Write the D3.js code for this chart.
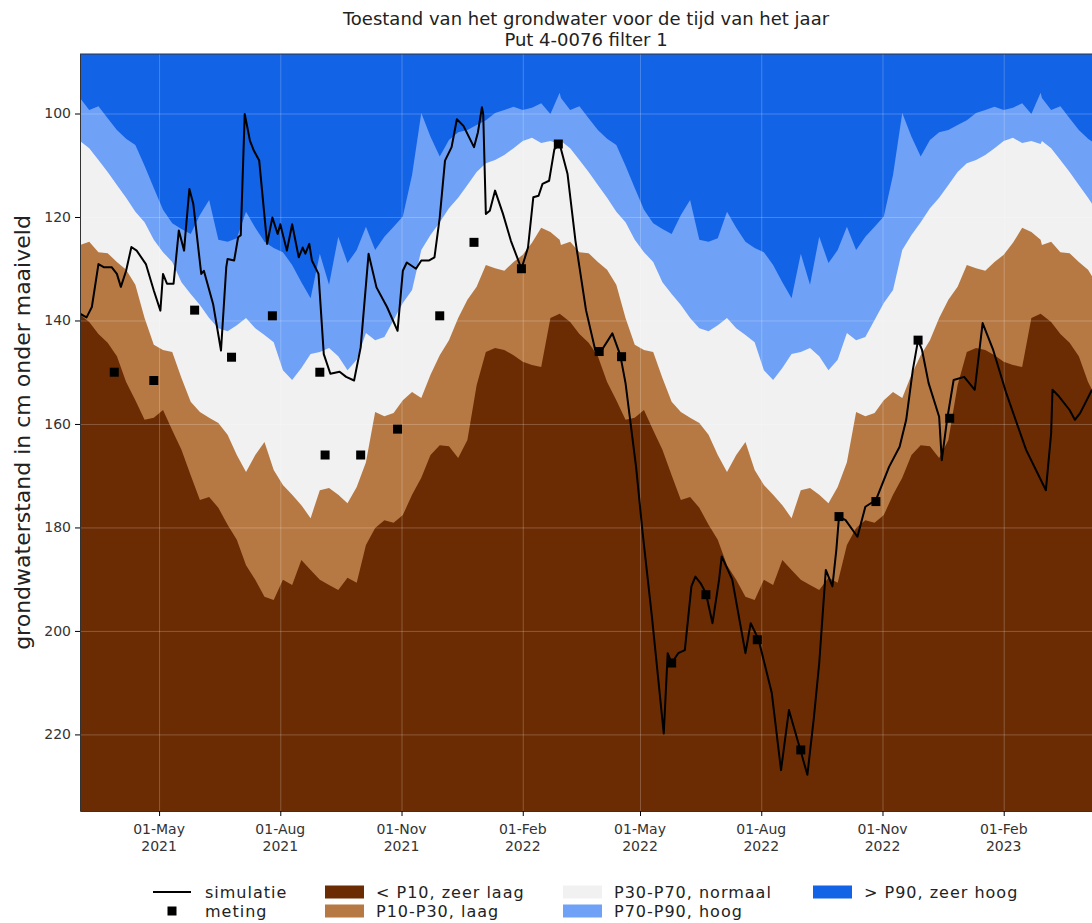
<html>
<head>
<meta charset="utf-8">
<script src="https://d3js.org/d3.v7.min.js"></script>
<style>
    body { margin: 0; background: #fff; }
    text { font-family: "DejaVu Sans", sans-serif; fill: #222; }
    .grid line { stroke: #fff; stroke-opacity: 0.22; }
    .grid .domain { stroke: none; }
    .legenda text { font-size: 16px; letter-spacing: 1px; }
</style>
</head>
<body>
<div id="chart"></div>
<script>
// percentielen per tijd van het jaar: dagen na 2 maart, elke 7 dagen
const dagen = [0,7,14,21,28,35,42,49,56,63,70,77,84,91,98,105,112,119,126,133,140,147,154,161,168,175,182,189,196,203,210,217,224,231,238,245,252,259,266,273,280,287,294,301,308,315,322,329,336,343,350,357,364];
const p90 = [97.0,99.3,98.6,100.9,103.2,104.9,106.1,110.1,114.4,118.6,121.2,122.3,123.3,119.6,116.7,124.4,124.8,124.1,119.0,122.1,124.8,126.0,126.8,129.3,132.6,135.7,127.1,133.1,123.8,128.9,126.4,121.9,126.4,123.8,121.9,119.9,111.9,99.9,104.5,108.3,105.1,103.6,103.2,102.2,101.3,99.9,99.3,98.7,99.3,98.9,98.0,100.1,96.0];
const p70 = [105.3,106.7,109.0,111.3,113.8,116.3,119.0,121.0,124.4,126.8,128.7,132.6,134.9,137.0,139.5,141.5,142.1,140.9,139.5,141.5,142.8,144.2,149.6,151.5,149.2,146.5,146.1,145.3,146.9,149.6,147.6,142.4,143.8,143.2,139.9,136.6,134.1,126.4,123.5,121.0,118.3,116.3,113.8,111.3,109.6,109.0,108.0,106.7,105.3,104.7,105.7,105.3,105.9];
const p30 = [125.4,124.8,126.8,127.0,128.7,130.2,133.1,139.5,144.7,145.7,146.1,151.1,155.7,157.7,158.8,159.8,162.1,166.0,169.3,166.0,163.5,168.9,171.8,173.7,175.7,178.2,172.8,172.4,173.7,175.3,172.2,167.4,157.7,158.5,157.9,155.4,153.8,155.0,150.5,146.7,143.8,139.5,136.0,133.5,129.3,129.9,130.4,128.7,127.3,125.0,122.1,122.9,124.4];
const p10 = [138.9,140.3,142.6,144.3,146.9,151.9,155.4,159.2,158.8,157.3,161.2,165.0,169.9,174.7,174.1,176.2,179.5,182.4,187.3,190.1,193.4,194.0,190.1,191.1,186.3,188.2,190.1,191.1,192.1,189.7,190.7,183.4,180.1,178.6,179.1,177.6,173.7,170.4,166.0,164.1,164.3,166.6,163.1,152.5,146.1,145.3,145.7,146.7,148.0,148.6,149.0,139.5,138.7];

// simulatie
const simDatum = ['2021-03-02','2021-03-07','2021-03-11','2021-03-16','2021-03-20','2021-03-26','2021-03-30','2021-04-02','2021-04-06','2021-04-10','2021-04-14','2021-04-21','2021-04-27','2021-05-02','2021-05-04','2021-05-07','2021-05-12','2021-05-16','2021-05-20','2021-05-21','2021-05-24','2021-05-27','2021-06-02','2021-06-04','2021-06-11','2021-06-17','2021-06-21','2021-06-22','2021-06-27','2021-06-30','2021-07-02','2021-07-05','2021-07-09','2021-07-12','2021-07-16','2021-07-22','2021-07-26','2021-07-30','2021-08-01','2021-08-06','2021-08-10','2021-08-15','2021-08-18','2021-08-20','2021-08-23','2021-08-25','2021-08-30','2021-09-03','2021-09-08','2021-09-15','2021-09-20','2021-09-26','2021-10-01','2021-10-07','2021-10-13','2021-10-21','2021-10-29','2021-11-02','2021-11-05','2021-11-12','2021-11-16','2021-11-22','2021-11-26','2021-11-30','2021-12-04','2021-12-09','2021-12-13','2021-12-18','2021-12-26','2021-12-29','2022-01-01','2022-01-02','2022-01-04','2022-01-07','2022-01-11','2022-01-17','2022-01-23','2022-01-31','2022-02-05','2022-02-09','2022-02-13','2022-02-16','2022-02-21','2022-02-25','2022-03-01','2022-03-07','2022-03-13','2022-03-21','2022-03-28','2022-04-02','2022-04-10','2022-04-16','2022-04-20','2022-04-28','2022-05-03','2022-05-10','2022-05-19','2022-05-22','2022-05-25','2022-05-30','2022-06-04','2022-06-09','2022-06-12','2022-06-16','2022-06-20','2022-06-25','2022-06-30','2022-07-02','2022-07-10','2022-07-20','2022-07-24','2022-07-30','2022-08-09','2022-08-16','2022-08-22','2022-08-30','2022-09-05','2022-09-10','2022-09-14','2022-09-19','2022-09-24','2022-09-27','2022-09-29','2022-10-04','2022-10-13','2022-10-19','2022-10-27','2022-11-06','2022-11-14','2022-11-19','2022-11-24','2022-11-28','2022-12-01','2022-12-06','2022-12-14','2022-12-16','2022-12-20','2022-12-25','2023-01-02','2023-01-10','2023-01-16','2023-01-24','2023-02-03','2023-02-18','2023-03-05','2023-03-09','2023-03-10','2023-03-15','2023-03-23','2023-03-27','2023-03-31','2023-04-09'];
const simWaarde = [138.7,139.4,137.4,129.1,129.7,129.7,131.0,133.5,130.4,125.8,126.5,129.1,134.2,138.1,131.0,132.9,132.9,122.6,126.5,123.3,114.6,117.5,131.0,130.4,136.8,145.8,129.7,128.1,128.4,123.9,123.5,100.1,105.3,107.2,109.1,125.2,120.1,123.3,121.4,126.5,121.4,127.8,125.9,127.1,125.2,128.4,131.0,146.5,150.3,149.9,150.9,151.6,145.2,127.1,133.6,137.4,142.0,130.4,128.8,130.0,128.4,128.4,127.8,120.1,109.1,106.5,101.1,102.4,106.5,103.6,98.8,100.1,119.4,118.8,114.9,119.4,124.6,130.0,125.9,116.2,115.9,113.6,113.0,106.9,105.9,111.7,124.6,138.0,145.7,145.7,142.5,146.7,152.1,168.3,181.1,197.2,219.8,204.3,206.2,204.3,203.7,191.4,189.5,190.8,192.7,198.5,190.1,185.6,190.1,204.3,198.5,201.7,212.0,226.9,215.3,222.4,227.8,216.6,206.2,188.2,191.4,184.3,177.9,178.6,181.8,176.0,174.7,168.3,164.4,159.2,149.6,143.8,145.7,152.1,158.6,167.0,159.2,151.5,150.9,153.4,140.5,145.7,154.1,165.0,172.8,161.8,153.4,154.7,157.3,159.2,157.9,153.4];

// metingen
const metDatum = ['2021-03-28','2021-04-27','2021-05-28','2021-06-25','2021-07-26','2021-08-31','2021-09-04','2021-10-01','2021-10-29','2021-11-30','2021-12-26','2022-01-31','2022-02-28','2022-03-31','2022-04-17','2022-05-25','2022-06-20','2022-07-29','2022-08-31','2022-09-29','2022-10-27','2022-11-28','2022-12-22'];
const metWaarde = [150.0,151.6,138.0,147.1,139.1,150.0,166.0,166.0,161.0,139.1,124.9,130.0,105.9,146.0,147.0,206.2,193.0,201.7,223.0,177.9,175.0,143.8,158.9];

const yTicks = [100, 120, 140, 160, 180, 200, 220];
const xTicks = ['2021-05-01','2021-08-01','2021-11-01','2022-02-01','2022-05-01','2022-08-01','2022-11-01','2023-02-01'];
const maanden = {1: 'Jan', 2: 'Feb', 3: 'Mar', 4: 'Apr', 5: 'May', 6: 'Jun', 7: 'Jul', 8: 'Aug', 9: 'Sep', 10: 'Oct', 11: 'Nov', 12: 'Dec'};

const klassen = ['< P10, zeer laag', 'P10-P30, laag', 'P30-P70, normaal', 'P70-P90, hoog', '> P90, zeer hoog'];
const kleuren = ['#6b2c03', '#b77943', '#f1f1f1', '#6fa1f6', '#1263e6'];

const parse = d3.timeParse('%Y-%m-%d');
const start = parse('2021-03-02');

const svg = d3.select('#chart').append('svg')
    .attr('width', 1092)
    .attr('height', 923);

const margins = { top: 54, right: 0, bottom: 112, left: 80 };
const width = 1092 - margins.left - margins.right;
const height = 923 - margins.top - margins.bottom;

const xScale = d3.scaleTime()
    .domain([start, parse('2023-04-09')])
    .range([0, width]);
const yScale = d3.scaleLinear()
    .domain([88.5, 234.8])
    .range([0, height]);

svg.append('defs').append('clipPath').attr('id', 'plotclip')
    .append('rect').attr('width', width).attr('height', height);

const chartArea = svg.append('g')
    .attr('transform', `translate(${margins.left},${margins.top})`);
const plot = chartArea.append('g').attr('clip-path', 'url(#plotclip)');

// klimaat herhalen over de jaren
function klimaat(values) {
    const pts = [];
    for (let jaar = 0; jaar < 3; jaar++) {
        dagen.forEach((d, i) => {
            pts.push({ date: d3.timeDay.offset(start, jaar * 365 + d), v: values[i] });
        });
    }
    return pts;
}

plot.append('rect')
    .attr('width', width)
    .attr('height', height)
    .attr('fill', kleuren[4]);

const area = d3.area()
    .x(d => xScale(d.date))
    .y0(height)
    .y1(d => yScale(d.v));

[p90, p70, p30, p10].forEach((reeks, i) => {
    plot.append('path')
        .datum(klimaat(reeks))
        .attr('d', area)
        .attr('fill', kleuren[3 - i]);
});

// gridlines
plot.append('g')
    .attr('class', 'grid')
    .call(d3.axisLeft(yScale).tickValues(yTicks).tickSize(-width).tickFormat(''));
plot.append('g')
    .attr('class', 'grid')
    .attr('transform', `translate(0,${height})`)
    .call(d3.axisBottom(xScale).tickValues(xTicks.map(parse)).tickSize(-height).tickFormat(''));

const sim = simDatum.map((d, i) => ({ date: parse(d), v: simWaarde[i] }));
plot.append('path')
    .datum(sim)
    .attr('d', d3.line().x(d => xScale(d.date)).y(d => yScale(d.v)))
    .attr('fill', 'none')
    .attr('stroke', '#000')
    .attr('stroke-width', 2)
    .attr('stroke-linejoin', 'round');

metDatum.forEach((d, i) => {
    plot.append('rect')
        .attr('x', xScale(parse(d)) - 4.5)
        .attr('y', yScale(metWaarde[i]) - 4.5)
        .attr('width', 9)
        .attr('height', 9)
        .attr('fill', '#000');
});

// assen
const leftAxis = chartArea.append('g')
    .call(d3.axisLeft(yScale).tickValues(yTicks).tickSize(5).tickSizeOuter(0).tickPadding(4));
leftAxis.selectAll('text').style('font-size', '14px').style('fill', '#333');
leftAxis.select('.domain').attr('stroke', '#333');

const bottomAxis = chartArea.append('g')
    .attr('transform', `translate(0,${height})`)
    .call(d3.axisBottom(xScale).tickValues(xTicks.map(parse)).tickSize(5).tickSizeOuter(0).tickFormat(''));
bottomAxis.select('.domain').attr('stroke', '#333');
xTicks.forEach(t => {
    const d = parse(t);
    const lab = chartArea.append('text')
        .attr('x', xScale(d))
        .attr('y', height + 23)
        .attr('text-anchor', 'middle')
        .style('font-size', '14px')
        .style('fill', '#333');
    lab.append('tspan').attr('x', xScale(d)).text('01-' + maanden[d.getMonth() + 1]);
    lab.append('tspan').attr('x', xScale(d)).attr('dy', 17).text(d.getFullYear());
});

chartArea.append('line')
    .attr('x1', 0).attr('x2', width)
    .attr('y1', 0).attr('y2', 0)
    .attr('stroke', '#333');

// titel
svg.append('text')
    .attr('x', 586).attr('y', 25)
    .attr('text-anchor', 'middle')
    .style('font-size', '18px')
    .text('Toestand van het grondwater voor de tijd van het jaar');
svg.append('text')
    .attr('x', 586).attr('y', 46)
    .attr('text-anchor', 'middle')
    .style('font-size', '18px')
    .text('Put 4-0076 filter 1');

svg.append('text')
    .attr('transform', `translate(30,${margins.top + height / 2}) rotate(-90)`)
    .attr('text-anchor', 'middle')
    .style('font-size', '22px')
    .text('grondwaterstand in cm onder maaiveld');

// legenda
const legend = svg.append('g').attr('class', 'legenda');
const rij = [892, 911];
legend.append('line')
    .attr('x1', 153).attr('x2', 191).attr('y1', rij[0]).attr('y2', rij[0])
    .attr('stroke', '#000').attr('stroke-width', 2);
legend.append('rect')
    .attr('x', 167.5).attr('y', rij[1] - 4.5).attr('width', 9).attr('height', 9)
    .attr('fill', '#000');
legend.append('text').attr('x', 205).attr('y', rij[0] + 6).text('simulatie');
legend.append('text').attr('x', 205).attr('y', rij[1] + 6).text('meting');

const kolX = [325, 325, 563, 563, 813];
klassen.forEach((k, i) => {
    const y = rij[i % 2];
    legend.append('rect')
        .attr('x', kolX[i]).attr('y', y - 6.5)
        .attr('width', 39).attr('height', 13)
        .attr('fill', kleuren[i]);
    legend.append('text')
        .attr('x', kolX[i] + 51).attr('y', y + 6)
        .text(k);
});
</script>
</body>
</html>
